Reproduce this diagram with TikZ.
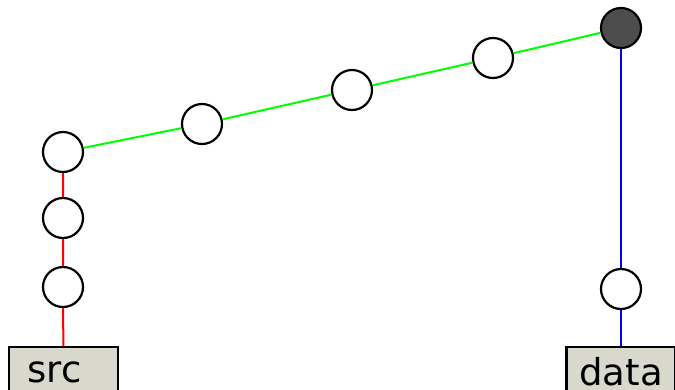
\documentclass[tikz,border=0pt]{standalone}
\usepackage{fontspec}
\setmainfont{DejaVu Sans}
\usepackage{xcolor}
\definecolor{boxfill}{RGB}{216,216,204}
\definecolor{darknode}{RGB}{77,77,77}
\tikzset{
vert/.style={circle,draw=black,line width=2.2pt,fill=white,minimum size=40pt,inner sep=0pt},
endbox/.style={rectangle,draw=black,line width=2.2pt,fill=boxfill,minimum width=109pt,minimum height=50pt,inner sep=0pt,font=\fontsize{37}{37}\selectfont}
}

\begin{document}
\begin{tikzpicture}[x=1pt,y=-1pt]
\useasboundingbox (0,0) rectangle (675,389);
\node[vert] (r1) at (63,287) {};
\node[vert] (r2) at (63,218) {};
\node[vert] (r3) at (63,152) {};
\node[vert] (g1) at (202,124) {};
\node[vert] (g2) at (352,90) {};
\node[vert] (g3) at (493,58) {};
\node[vert,fill=darknode] (top) at (621,28) {};
\node[vert] (b1) at (621,289) {};
\node[endbox] (src) at (63.5,372) {src\kern18pt};
\node[endbox] (data) at (621,372) {data};
\draw[red,line width=2pt] (src) -- (r1) -- (r2) -- (r3);
\draw[green,line width=2pt] (r3) -- (g1) -- (g2) -- (g3) -- (top);
\draw[blue,line width=2pt] (top) -- (b1) -- (data);
\end{tikzpicture}
\end{document}
